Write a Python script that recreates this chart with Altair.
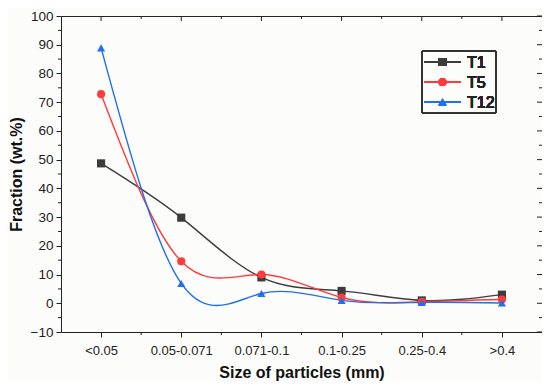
import json
import altair as alt
import pandas as pd

# ---- data ----
categories = ["<0.05", "0.05-0.071", "0.071-0.1", "0.1-0.25", "0.25-0.4", ">0.4"]
t1 = [48.7, 29.8, 9.0, 4.3, 1.0, 3.0]
t5 = [72.8, 14.6, 10.0, 2.0, 0.5, 1.3]
t12 = [88.9, 6.9, 3.4, 1.0, 0.3, 0.1]
series_names = ["T1", "T5", "T12"]
series_values = [t1, t5, t12]
colors = ["#3c3c3c", "#ff3b3b", "#1f6fef"]
shapes = ["square", "circle", "triangle-up"]
y_major = list(range(-10, 101, 10))
y_minor = list(range(-5, 96, 10))

W, H = 481, 316
FONT = "Liberation Sans"
INK = "#222222"

rows = []
for name, vals in zip(series_names, series_values):
    for i, v in enumerate(vals):
        rows.append({"idx": i, "val": v, "series": name})
df = pd.DataFrame(rows)

x_major = list(range(len(categories)))
x_minor = [i + 0.5 for i in range(len(categories) - 1)]

xscale = alt.Scale(domain=[-0.5, len(categories) - 0.5], nice=False, zero=False)
yscale = alt.Scale(domain=[-10, 100], nice=False, zero=False)
cscale = alt.Scale(domain=series_names, range=colors)
sscale = alt.Scale(domain=series_names, range=shapes)

label_expr = json.dumps(categories) + "[datum.value]"

x_axis = alt.Axis(values=x_major, labelExpr=label_expr, grid=False, domain=False,
                  tickSize=5, tickColor=INK, labelPadding=7, titlePadding=7,
                  labelFontSize=13)
y_axis = alt.Axis(values=y_major, grid=False, domain=False, tickSize=5,
                  tickColor=INK, labelPadding=3, titlePadding=6, labelFontSize=13.5)
XT = "Size of particles (mm)"
YT = "Fraction (wt.%)"


def X(field):
    return alt.X(field, scale=xscale, title=XT, axis=x_axis)


def Y(field):
    return alt.Y(field, scale=yscale, title=YT, axis=y_axis)


lines = alt.Chart(df).mark_line(interpolate="natural", strokeWidth=1.4).encode(
    x=X("idx:Q"), y=Y("val:Q"),
    color=alt.Color("series:N", scale=cscale, legend=None),
    detail="series:N",
)
points = alt.Chart(df).mark_point(filled=True, size=66, opacity=1).encode(
    x=X("idx:Q"), y=Y("val:Q"),
    color=alt.Color("series:N", scale=cscale, legend=None),
    shape=alt.Shape("series:N", scale=sscale, legend=None),
)

# ---- decorative ticks (minor ticks, mirrored top/right ticks) ----
ymaj_df = pd.DataFrame({"val": y_major})
ymin_df = pd.DataFrame({"val": y_minor})
xmaj_df = pd.DataFrame({"idx": x_major})
xmin_df = pd.DataFrame({"idx": x_minor})


def yrule(d, x1, x2):
    return alt.Chart(d).mark_rule(color=INK, strokeWidth=1).encode(
        y=Y("val:Q"), x=alt.value(x1), x2=alt.value(x2))


def xrule(d, y1, y2):
    return alt.Chart(d).mark_rule(color=INK, strokeWidth=1).encode(
        x=X("idx:Q"), y=alt.value(y1), y2=alt.value(y2))


ticks = [
    yrule(ymin_df, -3, 0),          # left minor
    yrule(ymaj_df, W - 5, W),       # right major
    yrule(ymin_df, W - 3, W),       # right minor
    xrule(xmin_df, H, H + 3),       # bottom minor
    xrule(xmaj_df, 0, 5),           # top major
    xrule(xmin_df, 0, 3),           # top minor
]

# ---- legend (drawn manually) ----
LX, LY, LW, LH = 361, 35, 74, 62
legend_layers = [
    alt.Chart(df).mark_rect(fill="white", fillOpacity=0, stroke="#333333", strokeWidth=1).encode(
        x=alt.value(LX), x2=alt.value(LX + LW), y=alt.value(LY), y2=alt.value(LY + LH))
]
for k, (name, col, shp) in enumerate(zip(series_names, colors, shapes)):
    yy = 46 + 20 * k
    legend_layers.append(
        alt.Chart(df).mark_rule(color=col, strokeWidth=1.4).encode(
            x=alt.value(363), x2=alt.value(400), y=alt.value(yy)))
    legend_layers.append(
        alt.Chart(df).mark_point(filled=True, size=60, opacity=1, color=col, shape=shp).encode(
            x=alt.value(381.5), y=alt.value(yy)))
    legend_layers.append(
        alt.Chart(df).mark_text(text=name, align="left", baseline="middle",
                                font=FONT, fontSize=16, fontWeight="normal",
                                color="#222222").encode(
            x=alt.value(406), y=alt.value(yy + 1)))

chart = alt.layer(lines, points, *ticks, *legend_layers).properties(
    width=W, height=H,
    background="#fcfcfa",
    padding={"left": 53, "top": 8, "right": 0, "bottom": 49},
    autosize=alt.AutoSizeParams(type="none"),
).configure_view(
    stroke="#222222", strokeWidth=1
).configure_axis(
    labelFont=FONT, labelColor="#222222",
    titleFont=FONT, titleFontSize=16, titleFontWeight="bold", titleColor="#111111",
)

chart.save("out.html", embed_options={"renderer": "svg", "actions": False})
